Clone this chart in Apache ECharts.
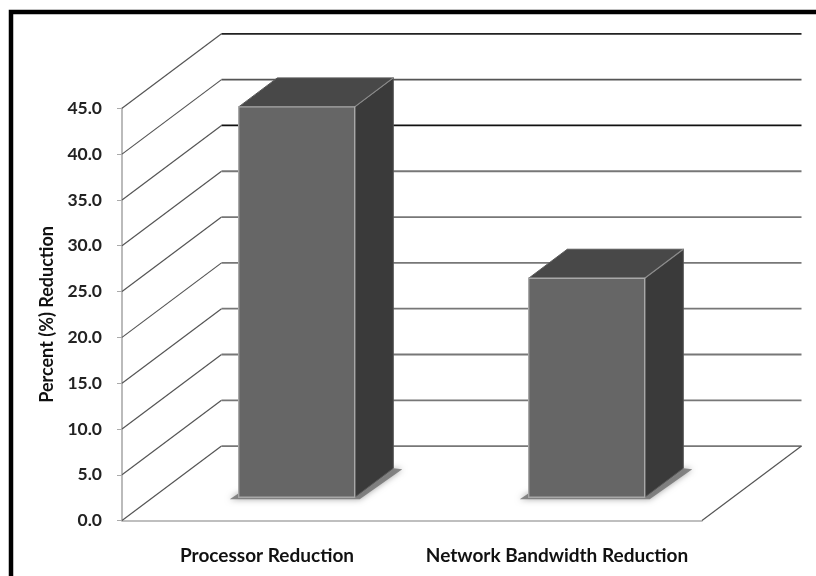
<!DOCTYPE html>
<html>
<head>
<meta charset="utf-8">
<style>
  html, body { margin: 0; padding: 0; background: #fff; }
  /* the original is a soft scan, so take the edge off a little */
  #chart { width: 816px; height: 576px; filter: blur(0.6px); }
</style>
<script src="https://cdn.jsdelivr.net/npm/echarts@6/dist/echarts.min.js"></script>
</head>
<body>
<div id="chart"></div>
<script>
// values
var categories = ['Processor Reduction', 'Network Bandwidth Reduction'];
var reduction = [42.6, 23.9];
var yTicks = [0, 5, 10, 15, 20, 25, 30, 35, 40, 45];

// gridline shade per tick, the scan of the original is uneven
var wallColors = ['#777', '#777', '#777', '#777', '#777', '#777', '#777', '#111', '#555', '#222'];

// fake 3D: how far the back wall and the bar depth are shifted, in pixels
var wallDx = 99.5, wallDy = -74.5;
var barOffX = 29.7, barOffY = -23.4;
var barDx = 38.6, barDy = -29;
var barWidth = 116;

var myChart = echarts.init(document.getElementById('chart'));

function renderWall(params, api) {
    var tick = api.value(1);
    var band = api.size([1, 0])[0];
    var p = api.coord([0, tick]);
    var x0 = p[0] - band / 2;
    var x1 = x0 + band * categories.length;
    var y = p[1];
    var children = [
        {
            type: 'line',
            shape: { x1: x0, y1: y, x2: x0 + wallDx, y2: y + wallDy },
            style: { stroke: '#555', lineWidth: 1.2 }
        },
        {
            type: 'line',
            shape: { x1: x0 + wallDx, y1: y + wallDy, x2: x1 + wallDx, y2: y + wallDy },
            style: { stroke: wallColors[params.dataIndex], lineWidth: 1.8 }
        }
    ];
    if (tick === 0) {
        // right edge of the floor
        children.push({
            type: 'line',
            shape: { x1: x1, y1: y, x2: x1 + wallDx, y2: y + wallDy },
            style: { stroke: '#555', lineWidth: 1.2 }
        });
    }
    return { type: 'group', children: children };
}

function renderBar(params, api) {
    var base = api.coord([api.value(0), 0]);
    var top = api.coord([api.value(0), api.value(1)]);
    var l = base[0] + barOffX - barWidth / 2;
    var r = l + barWidth;
    var b = base[1] + barOffY;
    var t = top[1] + barOffY;
    return {
        type: 'group',
        children: [
            {
                // soft shadow on the floor
                type: 'polygon',
                shape: { points: [[l - 9, b + 2], [r + 5, b + 2], [r + barDx + 9, b + barDy + 1], [r + barDx, b + barDy], [r, b - 4], [l, b - 4]] },
                style: { fill: 'rgba(110,110,110,0.8)', shadowBlur: 6, shadowColor: 'rgba(110,110,110,0.8)' }
            },
            {
                type: 'polygon',
                shape: { points: [[r, t], [r + barDx, t + barDy], [r + barDx, b + barDy], [r, b]] },
                style: { fill: '#3a3a3a', stroke: '#555', lineWidth: 1 }
            },
            {
                type: 'polygon',
                shape: { points: [[l, t], [l + barDx, t + barDy], [r + barDx, t + barDy], [r, t]] },
                style: { fill: '#484848', stroke: '#5a5a5a', lineWidth: 1 }
            },
            {
                type: 'line',
                shape: { x1: r, y1: t, x2: r + barDx, y2: t + barDy },
                style: { stroke: '#8c8c8c', lineWidth: 1.2 }
            },
            {
                type: 'rect',
                shape: { x: l, y: t, width: barWidth, height: b - t },
                style: { fill: '#666666', stroke: '#a8a8a8', lineWidth: 1.4 }
            }
        ]
    };
}

var option = {
    backgroundColor: '#fff',
    animation: false,
    grid: { left: 122, right: 114, top: 108.3, bottom: 55.4 },
    xAxis: {
        type: 'category',
        data: categories,
        axisLine: { lineStyle: { color: '#aaa', width: 1.6 } },
        axisTick: { length: 5, lineStyle: { color: '#aaa' } },
        axisLabel: {
            margin: 26,
            interval: 0,
            color: '#111',
            fontFamily: 'Lato',
            fontWeight: 'bold',
            fontSize: 19
        }
    },
    yAxis: {
        type: 'value',
        min: 0,
        max: 45,
        interval: 5,
        name: 'Percent (%) Reduction',
        nameLocation: 'middle',
        nameGap: 66,
        nameTextStyle: { color: '#111', fontFamily: 'Lato', fontWeight: 'bold', fontSize: 18 },
        axisLine: { show: true, lineStyle: { color: '#aaa', width: 1.6 } },
        axisTick: { show: true, length: 5, lineStyle: { color: '#aaa' } },
        splitLine: { show: false },
        axisLabel: {
            margin: 20,
            color: '#222',
            fontFamily: 'Lato',
            fontWeight: 'bold',
            fontSize: 17.5,
            formatter: function (v) { return v.toFixed(1); }
        }
    },
    series: [
        {
            type: 'custom',
            clip: false,
            silent: true,
            z: 1,
            renderItem: renderWall,
            encode: { x: 0, y: 1 },
            data: yTicks.map(function (t) { return [0, t]; })
        },
        {
            type: 'custom',
            clip: false,
            silent: true,
            z: 2,
            renderItem: renderBar,
            encode: { x: 0, y: 1 },
            data: reduction.map(function (v, i) { return [i, v]; })
        }
    ],
    graphic: [
        {
            // picture frame, only top and left are inside the crop
            type: 'polyline',
            silent: true,
            shape: { points: [[11, 576], [11, 12], [816, 12]] },
            style: { stroke: '#000', lineWidth: 4.5, fill: null }
        }
    ]
};
myChart.setOption(option);
</script>
</body>
</html>
